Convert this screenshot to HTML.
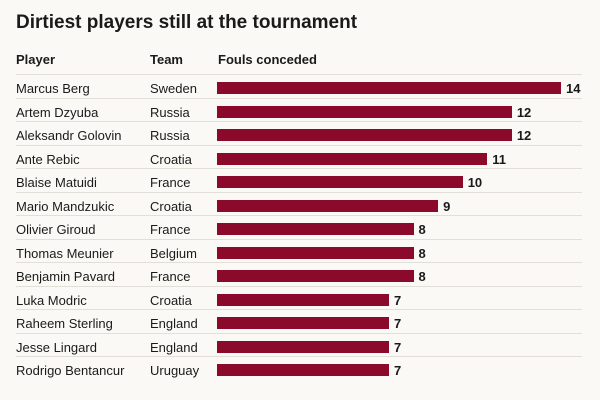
<!DOCTYPE html>
<html><head><style>
body{margin:0;width:600px;height:400px;background:#fbf9f5;font-family:"Liberation Sans",sans-serif;position:relative;overflow:hidden;color:#1a1a1a}
.t{position:absolute;left:16px;top:12px;font-size:19px;font-weight:bold}
.h{position:absolute;top:52px;font-size:13px;font-weight:bold}
.r{position:absolute;left:16px;width:566px;height:23.5px;border-top:1px solid #e2ded8;font-size:13px}
.r span{position:absolute;top:6px}
.b{position:absolute;left:201px;top:7px;height:12px;background:#8b0a2b}
.v{position:absolute;top:6px;font-weight:bold}
</style></head><body>
<div class="t">Dirtiest players still at the tournament</div>
<div class="h" style="left:16px">Player</div>
<div class="h" style="left:150px">Team</div>
<div class="h" style="left:218px">Fouls conceded</div>
<div id="rows"></div>
<script>
var d=[["Marcus Berg","Sweden",14],["Artem Dzyuba","Russia",12],["Aleksandr Golovin","Russia",12],["Ante Rebic","Croatia",11],["Blaise Matuidi","France",10],["Mario Mandzukic","Croatia",9],["Olivier Giroud","France",8],["Thomas Meunier","Belgium",8],["Benjamin Pavard","France",8],["Luka Modric","Croatia",7],["Raheem Sterling","England",7],["Jesse Lingard","England",7],["Rodrigo Bentancur","Uruguay",7]];
var h="";d.forEach(function(x,i){var w=x[2]*24.57;h+='<div class="r" style="top:'+(74+i*23.5)+'px"><span style="left:0">'+x[0]+'</span><span style="left:134px">'+x[1]+'</span><div class="b" style="width:'+w+'px"></div><span class="v" style="left:'+(201+w+5)+'px">'+x[2]+'</span></div>';});
document.getElementById("rows").innerHTML=h;
</script>
</body></html>
